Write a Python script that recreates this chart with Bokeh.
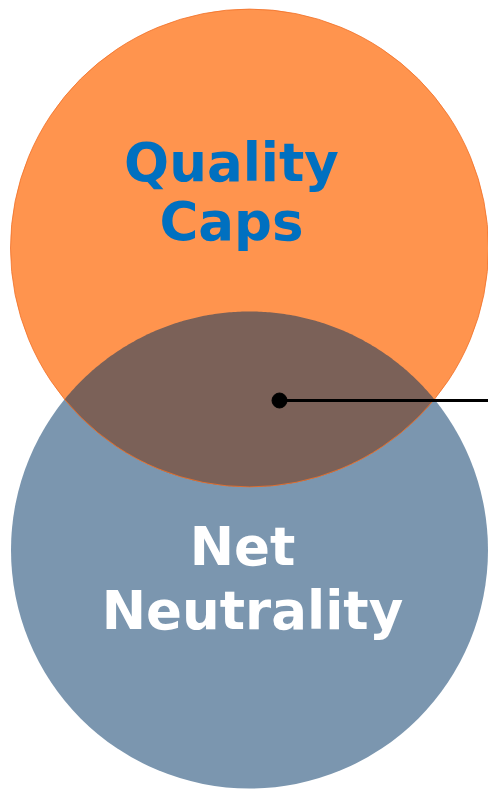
import numpy as np
from bokeh.plotting import figure
from bokeh.models import Range1d
from bokeh.core.properties import value
from bokeh.embed import file_html
from bokeh.resources import INLINE

# Venn data (page pixel coordinates)
set_names = ["Quality Caps", "Net Neutrality"]
center_x = [249.0, 249.0]
center_y = [247.5, 549.5]
radius = [239.0, 238.5]
fill_colors = ["#FF944E", "#7B96AF"]
overlap_color = "#7B6158"

label_lines_top = ["Quality", "Caps"]
label_top_x = [231, 231]
label_top_y = [162, 221]
label_lines_bot = ["Net", "Neutrality"]
label_bot_x = [242, 252]
label_bot_y = [546, 610]

marker_x = [279]
marker_y = [400]
leader_x = [279, 488]
leader_y = [400, 400]

p = figure(width=488, height=790, output_backend="svg", toolbar_location=None,
           x_range=Range1d(0, 488), y_range=Range1d(790, 0), min_border=0)
p.axis.visible = False
p.grid.visible = False
p.outline_line_color = None
p.background_fill_color = "white"
p.border_fill_color = "white"

# blue (bottom) circle
p.ellipse(x=[center_x[1]], y=[center_y[1]], width=[2 * radius[1]], height=[2 * radius[1]],
          fill_color=fill_colors[1], line_color=None)
# orange (top) circle
p.ellipse(x=[center_x[0]], y=[center_y[0]], width=[2 * radius[0]], height=[2 * radius[0]],
          fill_color=fill_colors[0], line_color=None)

# lens (intersection) computed from the circle geometry
x1, y1, r1 = center_x[0], center_y[0], radius[0]
x2, y2, r2 = center_x[1], center_y[1], radius[1]
d = abs(y2 - y1)
a = (r1 ** 2 - r2 ** 2 + d ** 2) / (2 * d)
yi = y1 + a
h = np.sqrt(r1 ** 2 - a ** 2)
ang1 = np.arctan2(yi - y1, h)          # on orange circle (below its center)
ang2 = np.arctan2(yi - y2, h)          # on blue circle (above its center)
t1 = np.linspace(ang1, np.pi - ang1, 200)
t2 = np.linspace(np.pi - ang2, 2 * np.pi + ang2, 200)
lx = np.concatenate([x1 + r1 * np.cos(t1), x2 + r2 * np.cos(t2)])
ly = np.concatenate([y1 + r1 * np.sin(t1), y2 + r2 * np.sin(t2)])
p.patch(lx, ly, fill_color=overlap_color, line_color=None)

# orange outline on top
p.ellipse(x=[center_x[0]], y=[center_y[0]], width=[2 * radius[0]], height=[2 * radius[0]],
          fill_color=None, line_color="#F07028", line_width=1, line_alpha=0.8)

# leader line and marker
p.line(leader_x, leader_y, line_color="black", line_width=3)
p.scatter(marker_x, marker_y, size=15, fill_color="black", line_color="black")

# labels
p.text(x=label_top_x, y=label_top_y, text=label_lines_top, text_font=value("DejaVu Sans"),
       text_font_style="bold", text_font_size="53px", text_color="#0070C0",
       text_align="center", text_baseline="alphabetic")
p.text(x=label_bot_x, y=label_bot_y, text=label_lines_bot, text_font=value("DejaVu Sans"),
       text_font_style="bold", text_font_size="53px", text_color="white",
       text_align="center", text_baseline="alphabetic")

open("out.html", "w").write(file_html(p, INLINE))
